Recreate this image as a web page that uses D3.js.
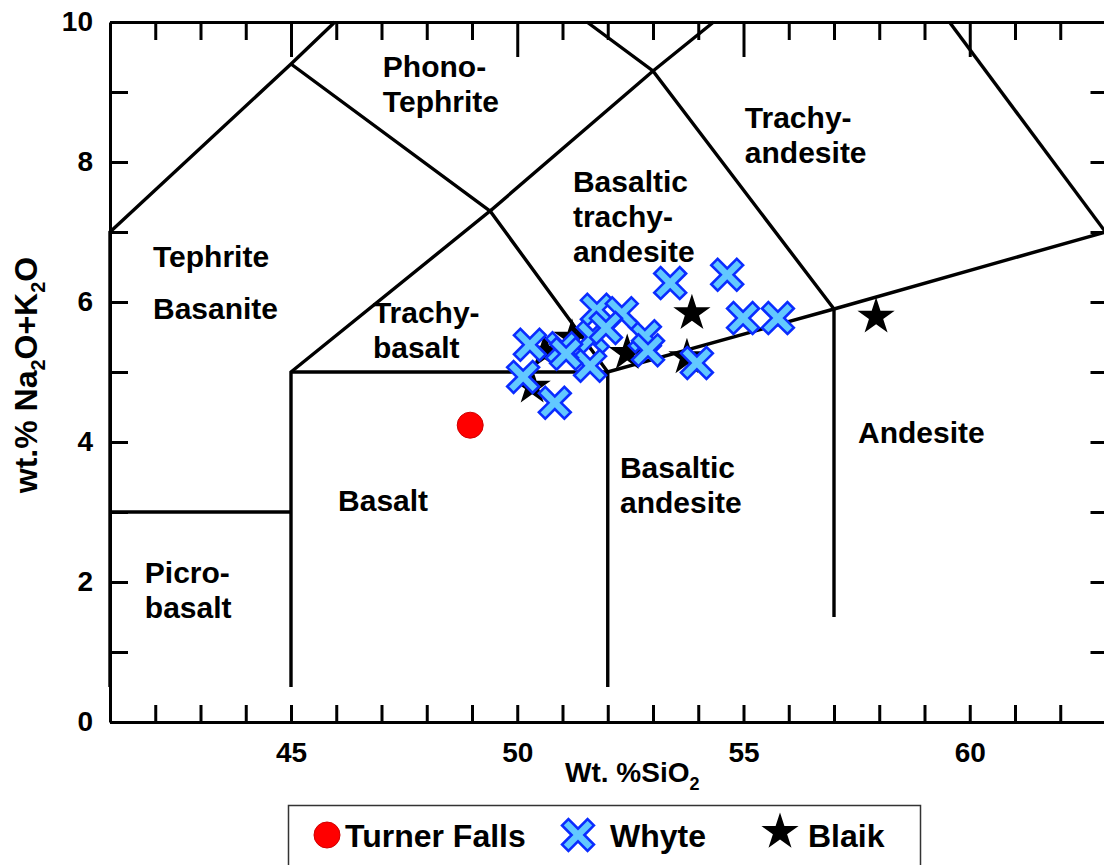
<!DOCTYPE html>
<html>
<head>
<meta charset="utf-8">
<script src="https://cdn.jsdelivr.net/npm/d3@7"></script>
<style>
  body { margin: 0; background: #fff; }
  svg { display: block; }
  text { font-family: "Liberation Sans", Arial, sans-serif; font-weight: bold; fill: #000; }
</style>
</head>
<body>
<svg id="chart"></svg>
<script>
// --- data (wt.% SiO2, wt.% Na2O+K2O) ---
var turnerFalls = [[48.96, 4.24]];

var whyte = [
  [53.38, 6.27], [54.64, 6.39], [54.99, 5.77], [55.76, 5.77], [53.97, 5.13],
  [52.82, 5.51], [52.89, 5.31], [51.76, 5.89], [52.31, 5.84], [51.67, 5.50],
  [51.96, 5.63], [51.61, 5.09], [50.28, 5.39], [50.99, 5.34], [51.08, 5.26],
  [50.13, 4.93], [50.83, 4.56]
];

var blaik = [
  [53.86, 5.84], [57.93, 5.79], [53.75, 5.21], [52.43, 5.27],
  [50.33, 4.79], [50.61, 5.29], [51.21, 5.49]
];

// TAS field boundaries (Le Bas et al.), clipped to the plotted window
var boundaries = [
  [[41, 0.5], [41, 7], [45, 9.4], [45.97, 10]],
  [[45, 9.4], [49.4, 7.3], [53, 9.3], [54.34, 10]],
  [[51.54, 10], [53, 9.3], [57, 5.9]],
  [[59.55, 10], [63, 7]],
  [[45, 0.5], [45, 5], [49.4, 7.3], [52, 5]],
  [[45, 5], [52, 5], [57, 5.9], [63, 7]],
  [[52, 0.5], [52, 5]],
  [[57, 1.5], [57, 5.9]],
  [[41, 3], [45, 3]]
];

var fieldNames = [
  ["Phono-", "Tephrite"], ["Trachy-", "andesite"], ["Basaltic", "trachy-", "andesite"],
  ["Tephrite"], ["Basanite"], ["Trachy-", "basalt"], ["Basalt"],
  ["Basaltic", "andesite"], ["Andesite"], ["Picro-", "basalt"]
];
var fieldAnchors = [
  [47.03, 9.21], [55.03, 8.49], [51.23, 7.57],
  [41.95, 6.50], [41.95, 5.76], [46.81, 5.70], [46.04, 3.01],
  [52.27, 3.49], [57.53, 3.99], [41.77, 1.99]
];

var xTickLabels = [45, 50, 55, 60];
var yTickLabels = [0, 2, 4, 6, 8, 10];
var seriesNames = ["Turner Falls", "Whyte", "Blaik"];

// --- layout ---
var W = 1104, H = 865;
var svg = d3.select("#chart").attr("width", W).attr("height", H);

var x = d3.scaleLinear().domain([41, 63]).range([110, 1105.5]);
var y = d3.scaleLinear().domain([0, 10]).range([722, 22]);

var xInts = d3.range(42, 63);
var yInts = d3.range(1, 10);

function styleAxis(g, w) {
  g.selectAll("path.domain").attr("stroke", "#000").attr("stroke-width", w);
  g.selectAll(".tick line").attr("stroke", "#000").attr("stroke-width", w);
  g.selectAll(".tick text").attr("font-size", 28).attr("font-family", "Liberation Sans, Arial, sans-serif")
    .attr("font-weight", "bold").attr("fill", "#000");
}

// bottom axis
var gb = svg.append("g").attr("transform", "translate(0," + y(0) + ")")
  .call(d3.axisBottom(x).tickValues(xInts).tickSize(-17).tickSizeOuter(0).tickPadding(20)
    .tickFormat(function(d) { return xTickLabels.indexOf(d) >= 0 ? d : ""; }));
styleAxis(gb, 3);

// top axis: minor + major ticks
var gt = svg.append("g").attr("transform", "translate(0," + y(10) + ")")
  .call(d3.axisTop(x).tickValues(xInts.filter(function(d) { return d % 5 !== 0; }))
    .tickSize(-18).tickSizeOuter(0).tickFormat(""));
styleAxis(gt, 3);
var gt2 = svg.append("g").attr("transform", "translate(0," + y(10) + ")")
  .call(d3.axisTop(x).tickValues(xTickLabels).tickSize(-35).tickSizeOuter(0).tickFormat(""));
styleAxis(gt2, 3);

// left axis
var gl = svg.append("g").attr("transform", "translate(" + x(41) + ",0)")
  .call(d3.axisLeft(y).tickValues(d3.range(0, 11)).tickSize(-18).tickSizeOuter(0).tickPadding(17)
    .tickFormat(function(d) { return yTickLabels.indexOf(d) >= 0 ? d : ""; }));
styleAxis(gl, 3);

// right axis
var gr = svg.append("g").attr("transform", "translate(" + x(63) + ",0)")
  .call(d3.axisRight(y).tickValues(yInts).tickSize(-15).tickSizeOuter(0).tickFormat(""));
styleAxis(gr, 3);

// axis titles
var xt = svg.append("text").attr("x", 565).attr("y", 782).attr("font-size", 28);
xt.append("tspan").text("Wt. %SiO");
xt.append("tspan").attr("font-size", 18).attr("dy", 8).text("2");

var yt = svg.append("text").attr("transform", "translate(37,375) rotate(-90)")
  .attr("text-anchor", "middle").attr("font-size", 32);
yt.append("tspan").text("wt.% Na");
yt.append("tspan").attr("font-size", 20).attr("dy", 8).text("2");
yt.append("tspan").attr("dy", -8).text("O+K");
yt.append("tspan").attr("font-size", 20).attr("dy", 8).text("2");
yt.append("tspan").attr("dy", -8).text("O");

// field boundaries
var line = d3.line().x(function(d) { return x(d[0]); }).y(function(d) { return y(d[1]); });
svg.append("g").selectAll("path").data(boundaries).join("path")
  .attr("d", line).attr("fill", "none").attr("stroke", "#000")
  .attr("stroke-width", 3.4).attr("stroke-linejoin", "miter");

// field names
var names = svg.append("g").selectAll("text").data(fieldNames).join("text")
  .attr("x", function(d, i) { return x(fieldAnchors[i][0]); })
  .attr("y", function(d, i) { return y(fieldAnchors[i][1]); })
  .attr("font-size", 30);
names.each(function(lines, i) {
  var t = d3.select(this);
  lines.forEach(function(s, j) {
    t.append("tspan").attr("x", x(fieldAnchors[i][0])).attr("dy", j === 0 ? 0 : 35).text(s);
  });
});

// X marker as a custom d3 symbol type
var xMark = {
  draw: function(ctx, size) {
    var L = Math.sqrt(size) / 2, t = L / 4;
    var pts = [[t, -L], [t, -t], [L, -t], [L, t], [t, t], [t, L], [-t, L], [-t, t], [-L, t], [-L, -t], [-t, -t], [-t, -L]];
    var c = Math.SQRT1_2;
    pts.forEach(function(p, k) {
      var px = (p[0] - p[1]) * c, py = (p[0] + p[1]) * c;
      if (k === 0) ctx.moveTo(px, py); else ctx.lineTo(px, py);
    });
    ctx.closePath();
  }
};

var starPath = d3.symbol().type(d3.symbolStar).size(430);
var crossPath = d3.symbol().type(xMark).size(1300);

var pts = svg.append("g");
pts.selectAll("circle.tf").data(turnerFalls).join("circle")
  .attr("cx", function(d) { return x(d[0]); }).attr("cy", function(d) { return y(d[1]); })
  .attr("r", 13).attr("fill", "#ff0000").attr("stroke", "#d00000").attr("stroke-width", 1);

pts.selectAll("path.bl").data(blaik).join("path")
  .attr("transform", function(d) { return "translate(" + x(d[0]) + "," + y(d[1]) + ")"; })
  .attr("d", starPath).attr("fill", "#000");

pts.selectAll("path.wh").data(whyte).join("path")
  .attr("transform", function(d) { return "translate(" + x(d[0]) + "," + y(d[1]) + ")"; })
  .attr("d", crossPath).attr("fill", "#62c8ff").attr("stroke", "#0a2cff").attr("stroke-width", 2.6)
  .attr("stroke-linejoin", "miter");

// legend
var lg = svg.append("g");
lg.append("rect").attr("x", 288.5).attr("y", 805.5).attr("width", 632).attr("height", 80)
  .attr("fill", "#fff").attr("stroke", "#333").attr("stroke-width", 1.5);
var legX = [327, 578, 780];
var legTextX = [345, 610, 808];
lg.append("circle").attr("cx", legX[0]).attr("cy", 835).attr("r", 13)
  .attr("fill", "#ff0000").attr("stroke", "#d00000").attr("stroke-width", 1);
lg.append("path").attr("transform", "translate(" + legX[1] + ",835)").attr("d", crossPath)
  .attr("fill", "#62c8ff").attr("stroke", "#0a2cff").attr("stroke-width", 2.6);
lg.append("path").attr("transform", "translate(" + legX[2] + ",832)").attr("d", starPath).attr("fill", "#000");
lg.selectAll("text").data(seriesNames).join("text")
  .attr("x", function(d, i) { return legTextX[i]; }).attr("y", 847)
  .attr("font-size", 32).text(function(d) { return d; });
</script>
</body>
</html>
